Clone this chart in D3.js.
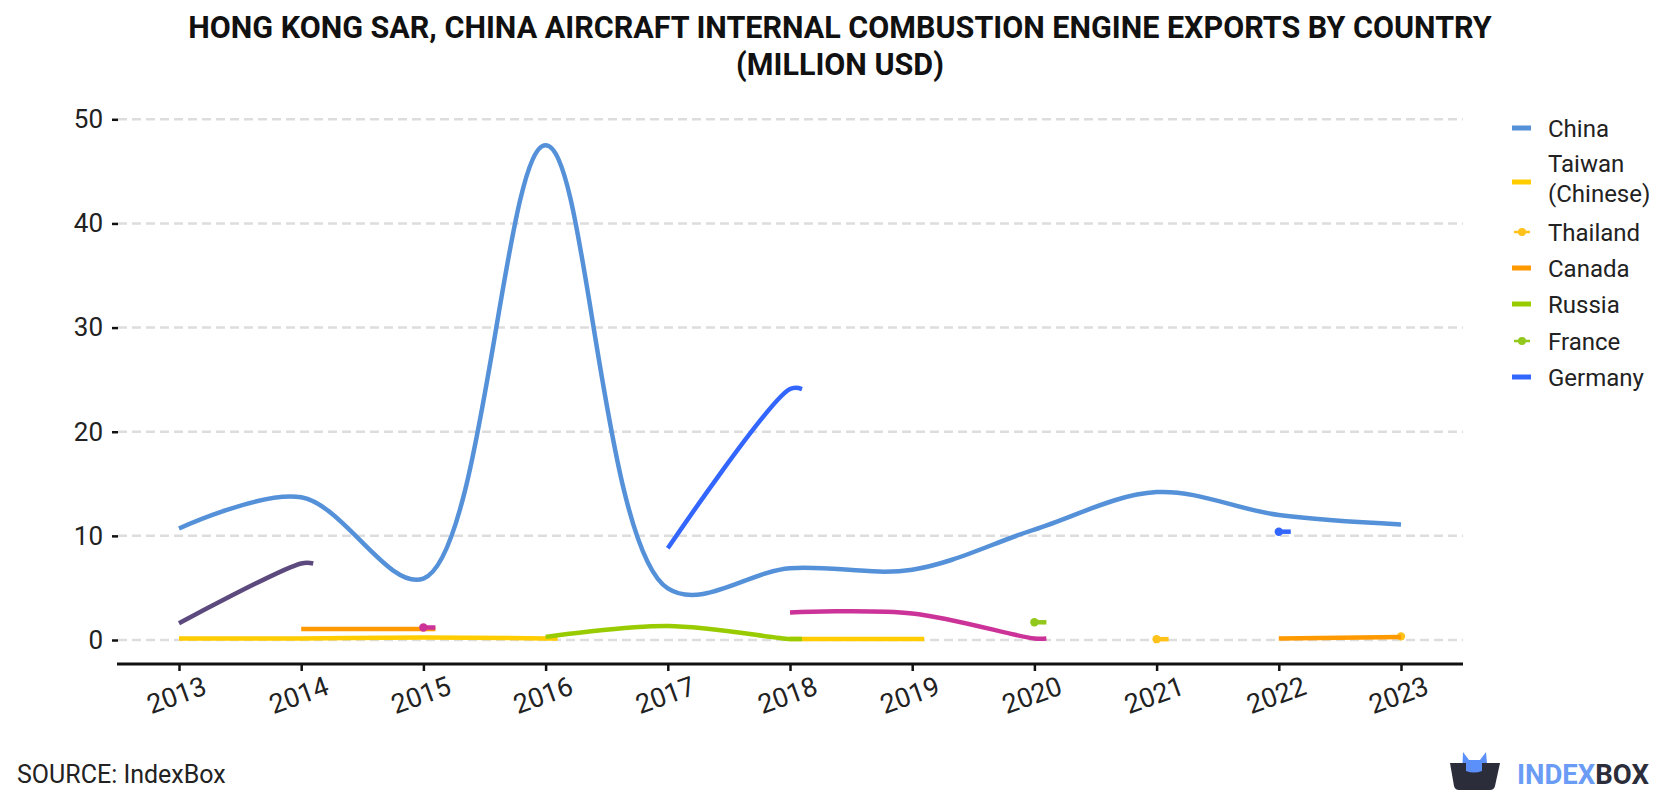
<!DOCTYPE html>
<html><head><meta charset="utf-8">
<script src="https://cdn.jsdelivr.net/npm/d3@7"></script>
<style>
body{margin:0;background:#fff}
svg{display:block}
text{font-family:Roboto,"Noto Sans",sans-serif}
</style>
</head><body>
<svg id="chart" width="1680" height="800"></svg>
<script>
// ---- data (million USD) ----
const years = [2013, 2014, 2015, 2016, 2017, 2018, 2019, 2020, 2021, 2022, 2023];
const china    = [10.7, 13.7, 5.9, 47.5, 4.95, 6.9, 6.75, 10.6, 14.2, 12.0, 11.1];
const taiwan   = [0.15, 0.15, 0.25, 0.15, null, 0.1, 0.1, null, null, null, null];
const thailand = [null, null, null, null, null, null, null, null, 0.08, null, 0.35];
const canada   = [null, 1.05, 1.05, null, null, null, null, null, null, 0.15, 0.3];
const russia   = [null, null, null, 0.3, 1.35, 0.1, null, null, null, null, null];
const france   = [null, null, null, null, null, null, null, 1.7, null, null, null];
const germany  = [null, null, null, null, 8.8, 24.1, null, null, null, 10.4, null];
const otherA   = [1.6, 7.35, null, null, null, null, null, null, null, null, null];
const otherB   = [null, null, 1.2, null, null, 2.65, 2.55, 0.15, null, null, null];
const yTicks = [0, 10, 20, 30, 40, 50];

const seriesNames  = ["China", "Taiwan (Chinese)", "Thailand", "Canada", "Russia", "France", "Germany", "Other A", "Other B"];
const seriesValues = [china, taiwan, thailand, canada, russia, france, germany, otherA, otherB];
const seriesColors = ["#5591d9", "#ffcc00", "#ffc21a", "#ff9900", "#99cc00", "#92c81c", "#3366ff", "#5c4a7e", "#cc3399"];
const legendShown  = [true, true, true, true, true, true, true, false, false];
const legendDot    = [false, false, true, false, false, true, false, false, false];

const svg = d3.select("#chart");
const x = d3.scaleLinear().domain([2013, 2023]).range([179, 1401]);
const y = d3.scaleLinear().domain([0, 50]).range([640, 119.3]);
const axisY = 664, plotL = 117, plotR = 1463;

// title
svg.append("text").attr("x", 840).attr("y", 38).attr("text-anchor", "middle")
  .attr("font-size", 30.5).attr("font-weight", 700).attr("fill", "#111")
  .text("HONG KONG SAR, CHINA AIRCRAFT INTERNAL COMBUSTION ENGINE EXPORTS BY COUNTRY");
svg.append("text").attr("x", 840).attr("y", 75).attr("text-anchor", "middle")
  .attr("font-size", 30.5).attr("font-weight", 700).attr("fill", "#111")
  .text("(MILLION USD)");

// grid
const grid = svg.append("g");
grid.selectAll("line").data(yTicks).join("line")
  .attr("x1", 118).attr("x2", plotR).attr("y1", d => y(d)).attr("y2", d => y(d))
  .attr("stroke", "#dddddd").attr("stroke-width", 2.5).attr("stroke-dasharray", "9,5");

// y axis (ticks + labels only)
const yAxis = svg.append("g").attr("transform", "translate(118,0)")
  .call(d3.axisLeft(y).tickValues(yTicks).tickSize(6).tickPadding(9).tickFormat(d3.format("d")));
yAxis.select(".domain").remove();
yAxis.selectAll(".tick line").attr("stroke", "#111").attr("stroke-width", 2.5);
yAxis.selectAll(".tick text").attr("font-size", 26).attr("fill", "#222")
  .attr("font-family", "Roboto, 'Noto Sans', sans-serif");

// x axis
const xAxis = svg.append("g").attr("transform", `translate(0,${axisY})`)
  .call(d3.axisBottom(x).tickValues(years).tickSize(7).tickFormat(d3.format("d")));
xAxis.select(".domain").attr("d", `M${plotL},0H${plotR}`).attr("stroke", "#111").attr("stroke-width", 3);
xAxis.selectAll(".tick line").attr("stroke", "#111").attr("stroke-width", 2.5);
xAxis.selectAll(".tick text").attr("font-size", 27).attr("fill", "#222")
  .attr("font-family", "Roboto, 'Noto Sans', sans-serif")
  .attr("y", 0).attr("dy", "0.35em").attr("text-anchor", "middle")
  .attr("transform", "translate(-3,31) rotate(-20)");

// lines
const line = d3.line().curve(d3.curveCatmullRom.alpha(0.5));
const marks = svg.append("g");
const stub = 12;
seriesValues.forEach((vals, si) => {
  const segs = [];
  let cur = [];
  vals.forEach((v, i) => {
    if (v == null) { if (cur.length) segs.push(cur); cur = []; }
    else cur.push({ year: years[i], v });
  });
  if (cur.length) segs.push(cur);
  segs.forEach(seg => {
    const pts = seg.map(d => [x(d.year), y(d.v)]);
    const last = seg[seg.length - 1];
    if (last.year < years[years.length - 1]) pts.push([x(last.year) + stub, y(last.v)]);
    if (pts.length > 1) {
      marks.append("path").attr("d", line(pts)).attr("fill", "none")
        .attr("stroke", seriesColors[si]).attr("stroke-width", 4.5)
        .attr("stroke-linejoin", "round");
    }
    if (seg.length === 1) {
      marks.append("circle").attr("cx", x(seg[0].year)).attr("cy", y(seg[0].v)).attr("r", 4.2)
        .attr("fill", seriesColors[si]);
    }
  });
});

// legend
const legRows = [128, 182, 232, 268, 304, 341, 377];
const lg = svg.append("g");
let r = 0;
seriesNames.forEach((name, si) => {
  if (!legendShown[si]) return;
  const cy = legRows[r++];
  if (legendDot[si]) {
    lg.append("line").attr("x1", 1514).attr("x2", 1530).attr("y1", cy).attr("y2", cy)
      .attr("stroke", seriesColors[si]).attr("stroke-width", 2.5);
    lg.append("circle").attr("cx", 1522).attr("cy", cy).attr("r", 4).attr("fill", seriesColors[si]);
  } else {
    lg.append("line").attr("x1", 1512).attr("x2", 1531).attr("y1", cy).attr("y2", cy)
      .attr("stroke", seriesColors[si]).attr("stroke-width", 5);
  }
  const t = lg.append("text").attr("x", 1548).attr("font-size", 24).attr("fill", "#222");
  if (name === "Taiwan (Chinese)") {
    t.append("tspan").attr("x", 1548).attr("y", cy - 10.5).text("Taiwan");
    t.append("tspan").attr("x", 1548).attr("y", cy + 20).text("(Chinese)");
  } else {
    t.attr("y", cy + 8.5).text(name);
  }
});

// source
svg.append("text").attr("x", 17).attr("y", 783).attr("font-size", 25).attr("fill", "#222")
  .text("SOURCE: IndexBox");

// logo
const logo = svg.append("g");
logo.append("path").attr("d", "M1462,775 L1463,752 L1469,760 L1480,760 L1486,752 L1488,775 Z").attr("fill", "#5b8ff9");
logo.append("path").attr("d", "M1450,763 L1500,763 L1495,786 Q1494,790 1490,790 L1459,790 Q1455,790 1454,786 Z").attr("fill", "#2b2d3a");
logo.append("path").attr("d", "M1466,763 L1466,771 Q1474,774 1482,771 L1482,763 Z").attr("fill", "#5b8ff9");
const lt = logo.append("text").attr("x", 1517).attr("y", 784).attr("font-size", 27.5).attr("font-weight", 700);
lt.append("tspan").attr("fill", "#6a9cf5").text("INDEX");
lt.append("tspan").attr("fill", "#2b2d3a").text("BOX");
</script>
</body></html>
